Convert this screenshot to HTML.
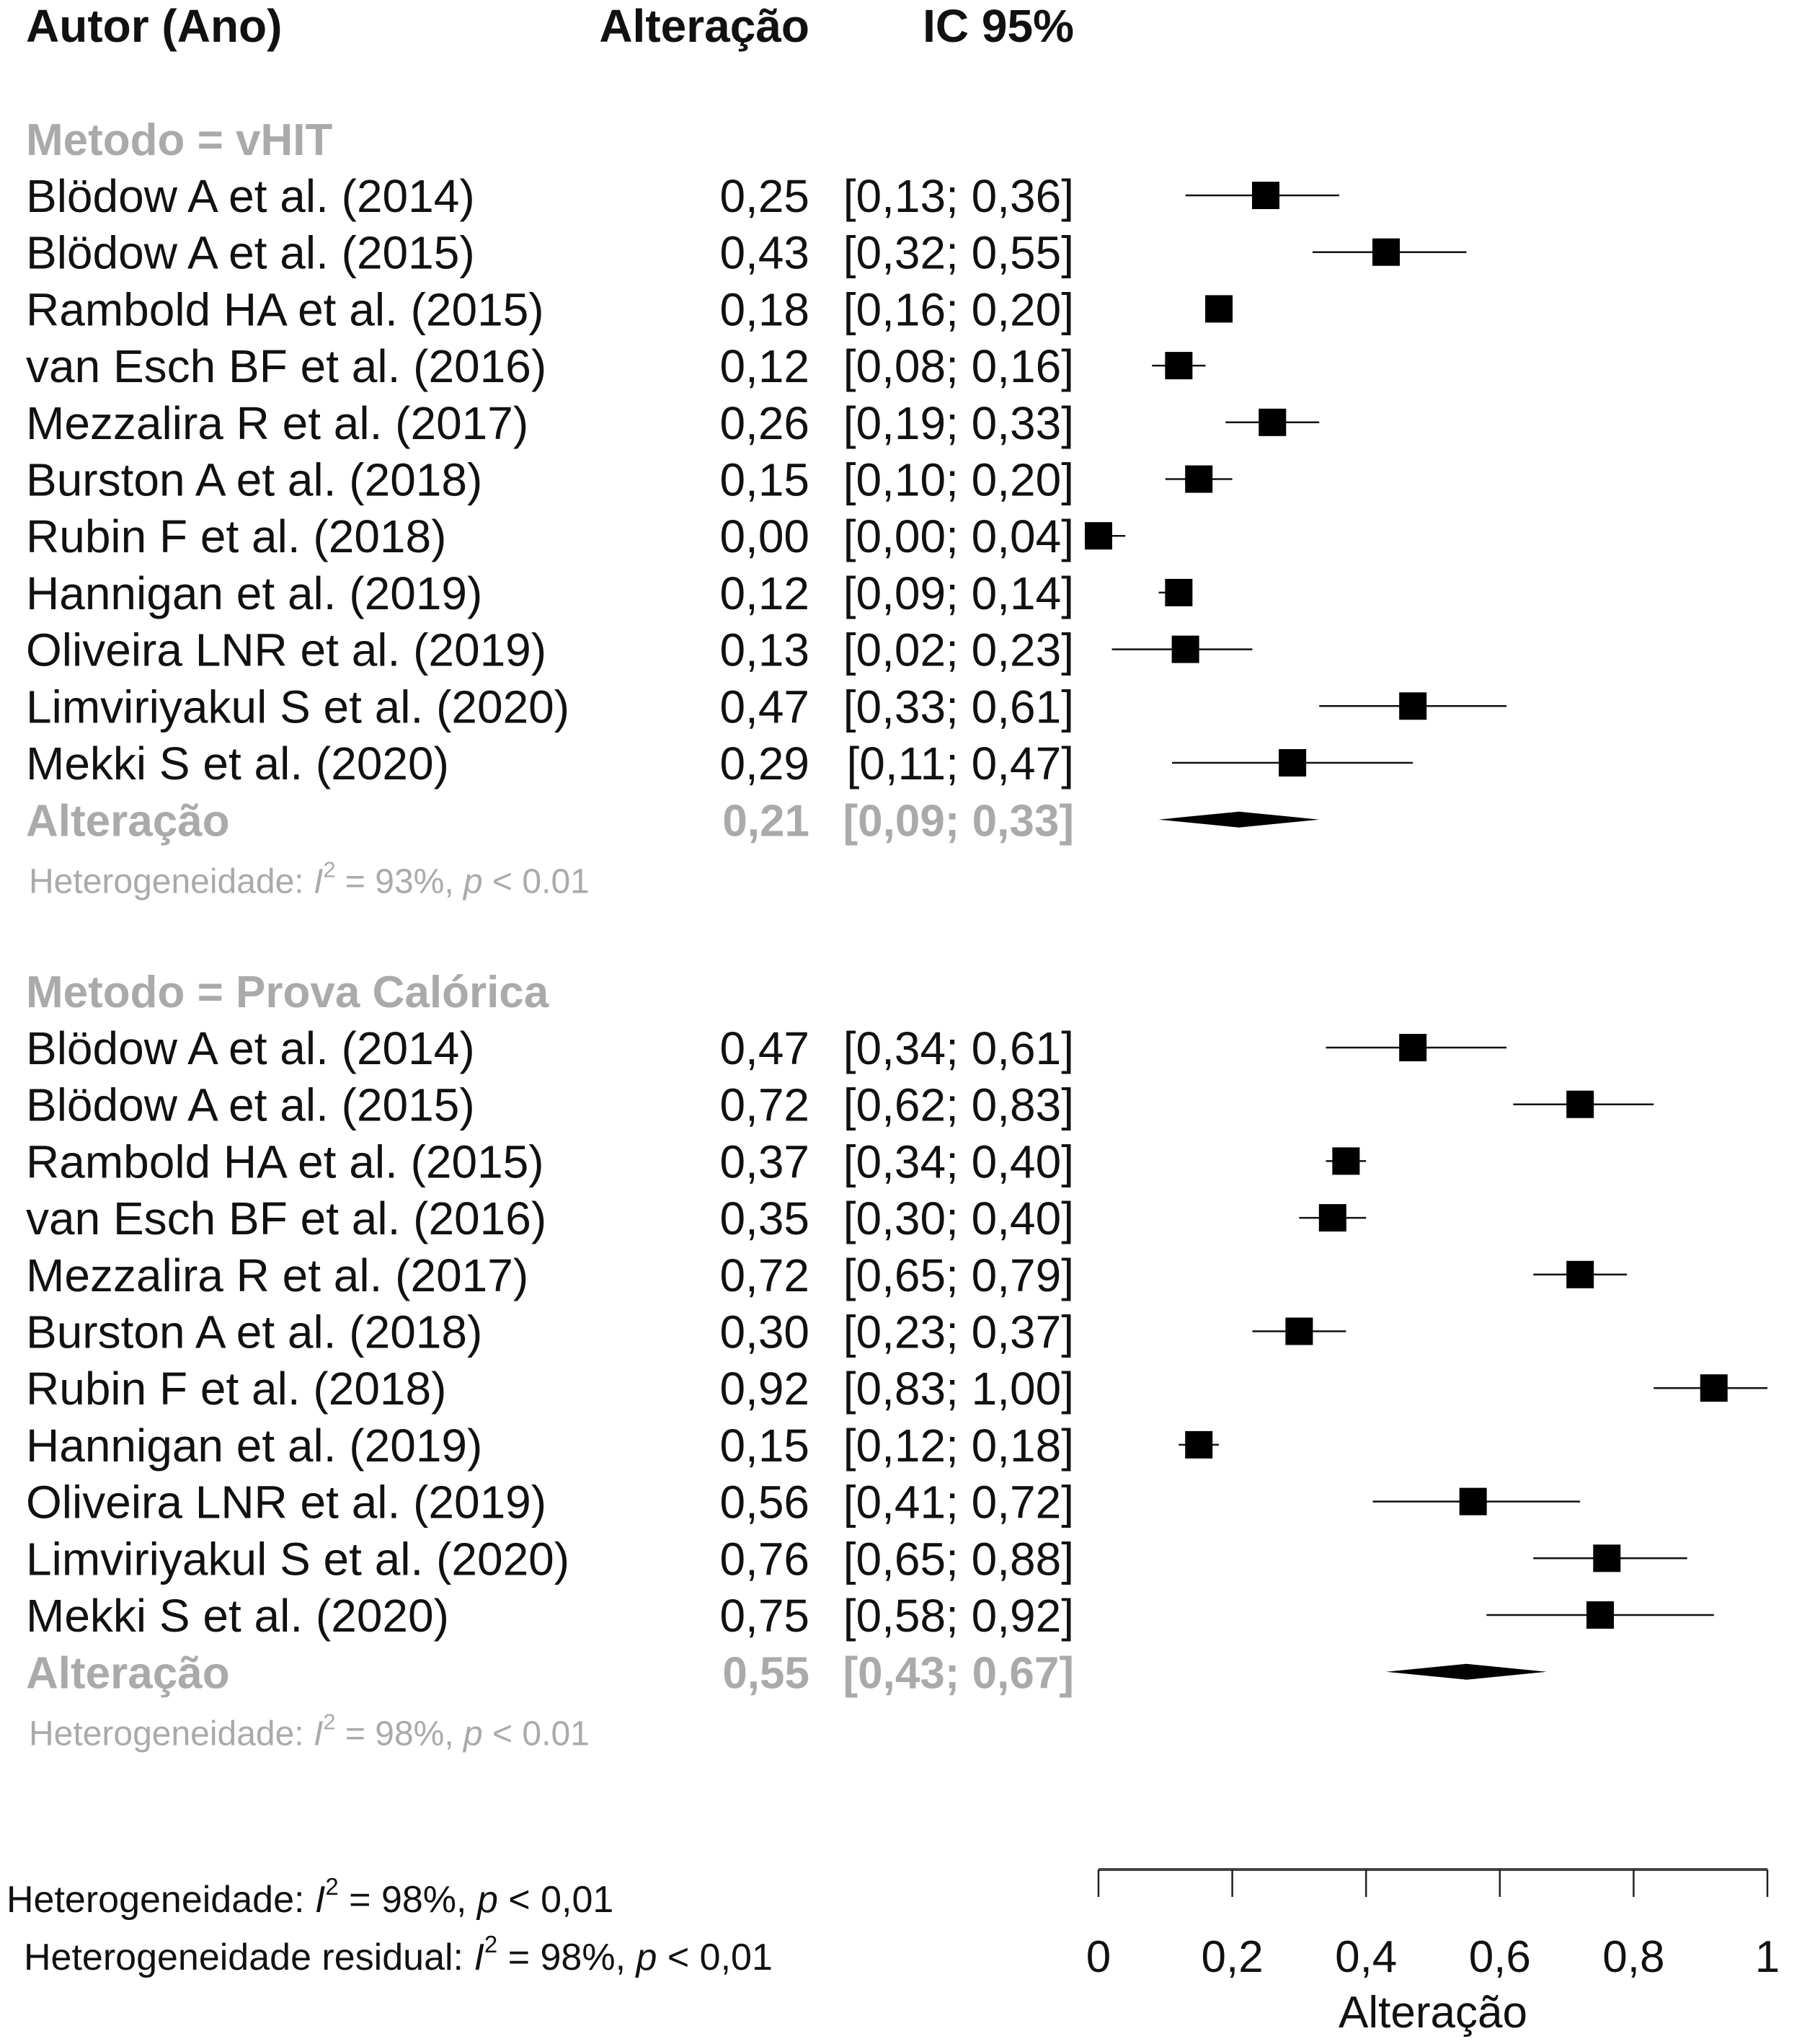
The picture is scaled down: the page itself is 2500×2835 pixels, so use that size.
<!DOCTYPE html>
<html><head><meta charset="utf-8"><style>
body{margin:0;background:#fff}
svg text{font-family:"Liberation Sans",sans-serif}
</style></head><body>
<svg id="c" width="2500" height="2830" viewBox="0 0 2500 2830" xmlns="http://www.w3.org/2000/svg">
<g font-weight="bold" font-size="64" fill="#111">
<text x="36" y="58">Autor (Ano)</text>
<text x="1123" y="58" text-anchor="end">Alteração</text>
<text x="1490" y="58" text-anchor="end">IC 95%</text>
</g>
<g id="rows"></g>
<g id="axis"></g>
<g font-size="52" fill="#111">
<text x="9" y="2652">Heterogeneidade: <tspan font-style="italic">I</tspan><tspan dy="-24" font-size="33">2</tspan><tspan dy="24"> = 98%, </tspan><tspan font-style="italic">p</tspan> &lt; 0,01</text>
<text x="33" y="2732">Heterogeneidade residual: <tspan font-style="italic">I</tspan><tspan dy="-24" font-size="33">2</tspan><tspan dy="24"> = 98%, </tspan><tspan font-style="italic">p</tspan> &lt; 0,01</text>
</g>
</svg>
<script>
const names=["Blödow A et al. (2014)","Blödow A et al. (2015)","Rambold HA et al. (2015)","van Esch BF et al. (2016)","Mezzalira R et al. (2017)","Burston A et al. (2018)","Rubin F et al. (2018)","Hannigan et al. (2019)","Oliveira LNR et al. (2019)","Limviriyakul S et al. (2020)","Mekki S et al. (2020)"];
const vhitEst=[0.25,0.43,0.18,0.12,0.26,0.15,0.00,0.12,0.13,0.47,0.29];
const vhitLo=[0.13,0.32,0.16,0.08,0.19,0.10,0.00,0.09,0.02,0.33,0.11];
const vhitHi=[0.36,0.55,0.20,0.16,0.33,0.20,0.04,0.14,0.23,0.61,0.47];
const vhitSum=[0.21,0.09,0.33];
const calEst=[0.47,0.72,0.37,0.35,0.72,0.30,0.92,0.15,0.56,0.76,0.75];
const calLo=[0.34,0.62,0.34,0.30,0.65,0.23,0.83,0.12,0.41,0.65,0.58];
const calHi=[0.61,0.83,0.40,0.40,0.79,0.37,1.00,0.18,0.72,0.88,0.92];
const calSum=[0.55,0.43,0.67];
const ticks=[0,0.2,0.4,0.6,0.8,1];
const tickLabels=["0","0,2","0,4","0,6","0,8","1"];

const NS="http://www.w3.org/2000/svg";
const X=v=>1524+v*928;
const f=v=>v.toFixed(2).replace('.',',');
const rows=document.getElementById('rows');
function mk(tag,attrs,parent,text){const e=document.createElementNS(NS,tag);for(const k in attrs)e.setAttribute(k,attrs[k]);if(text!==undefined)e.textContent=text;parent.appendChild(e);return e;}

function group(label,est,lo,hi,sum,het,y0,gkey){
  const g=mk('g',{},rows);
  
  
  const t=mk('text',{x:36,y:y0+23,'font-size':62,'font-weight':'bold',fill:'#aaa'},g,label);
  
  
  const step=78.7;
  for(let i=0;i<est.length;i++){
    const y=y0+79+i*step;
    const r=mk('g',{},g);
    
    
    mk('text',{x:36,y:y+23,'font-size':64,fill:'#111'},r,names[i]);
    mk('text',{x:1123,y:y+23,'font-size':64,fill:'#111','text-anchor':'end'},r,f(est[i]));
    mk('text',{x:1490,y:y+23,'font-size':64,fill:'#111','text-anchor':'end'},r,'['+f(lo[i])+'; '+f(hi[i])+']');
    const l=mk('line',{x1:X(lo[i]),x2:X(hi[i]),y1:y,y2:y,stroke:'#111','stroke-width':2.5},r);
    
    
    const s=38;
    const sq=mk('rect',{x:X(est[i])-s/2,y:y-s/2,width:s,height:s,fill:'#000'},r);
    
    
  }
  const ys=y0+79+est.length*step;
  mk('text',{x:36,y:ys+23,'font-size':62,'font-weight':'bold',fill:'#aaa'},g,'Alteração');
  mk('text',{x:1123,y:ys+23,'font-size':62,'font-weight':'bold',fill:'#aaa','text-anchor':'end'},g,f(sum[0]));
  mk('text',{x:1490,y:ys+23,'font-size':62,'font-weight':'bold',fill:'#aaa','text-anchor':'end'},g,'['+f(sum[1])+'; '+f(sum[2])+']');
  const d=mk('polygon',{points:`${X(sum[1])},${ys} ${X(sum[0])},${ys-11} ${X(sum[2])},${ys} ${X(sum[0])},${ys+11}`,fill:'#000'},g);
  
  
  const h=mk('text',{x:40,y:ys+102,'font-size':48,fill:'#aaa'},g);
  
  
  h.innerHTML='Heterogeneidade: <tspan font-style="italic">I</tspan><tspan dy="-22" font-size="31">2</tspan><tspan dy="22"> = '+het+'%, </tspan><tspan font-style="italic">p</tspan> &lt; 0.01';
}
group('Metodo = vHIT',vhitEst,vhitLo,vhitHi,vhitSum,93,192,'vhit');
group('Metodo = Prova Calórica',calEst,calLo,calHi,calSum,98,1374,'caloric');

const ax=document.getElementById('axis');
const al=mk('line',{x1:X(0),x2:X(1),y1:2593,y2:2593,stroke:'#444','stroke-width':4},ax);


ticks.forEach((v,i)=>{
  const tk=mk('line',{x1:X(v),x2:X(v),y1:2593,y2:2631,stroke:'#222','stroke-width':2.5},ax);
  
  
  const tl=mk('text',{x:X(v),y:2735,'font-size':62,fill:'#111','text-anchor':'middle'},ax,tickLabels[i]);
  
  
});
const at=mk('text',{x:X(0.5),y:2812,'font-size':62,fill:'#111','text-anchor':'middle'},ax,'Alteração');


</script>
</body></html>
